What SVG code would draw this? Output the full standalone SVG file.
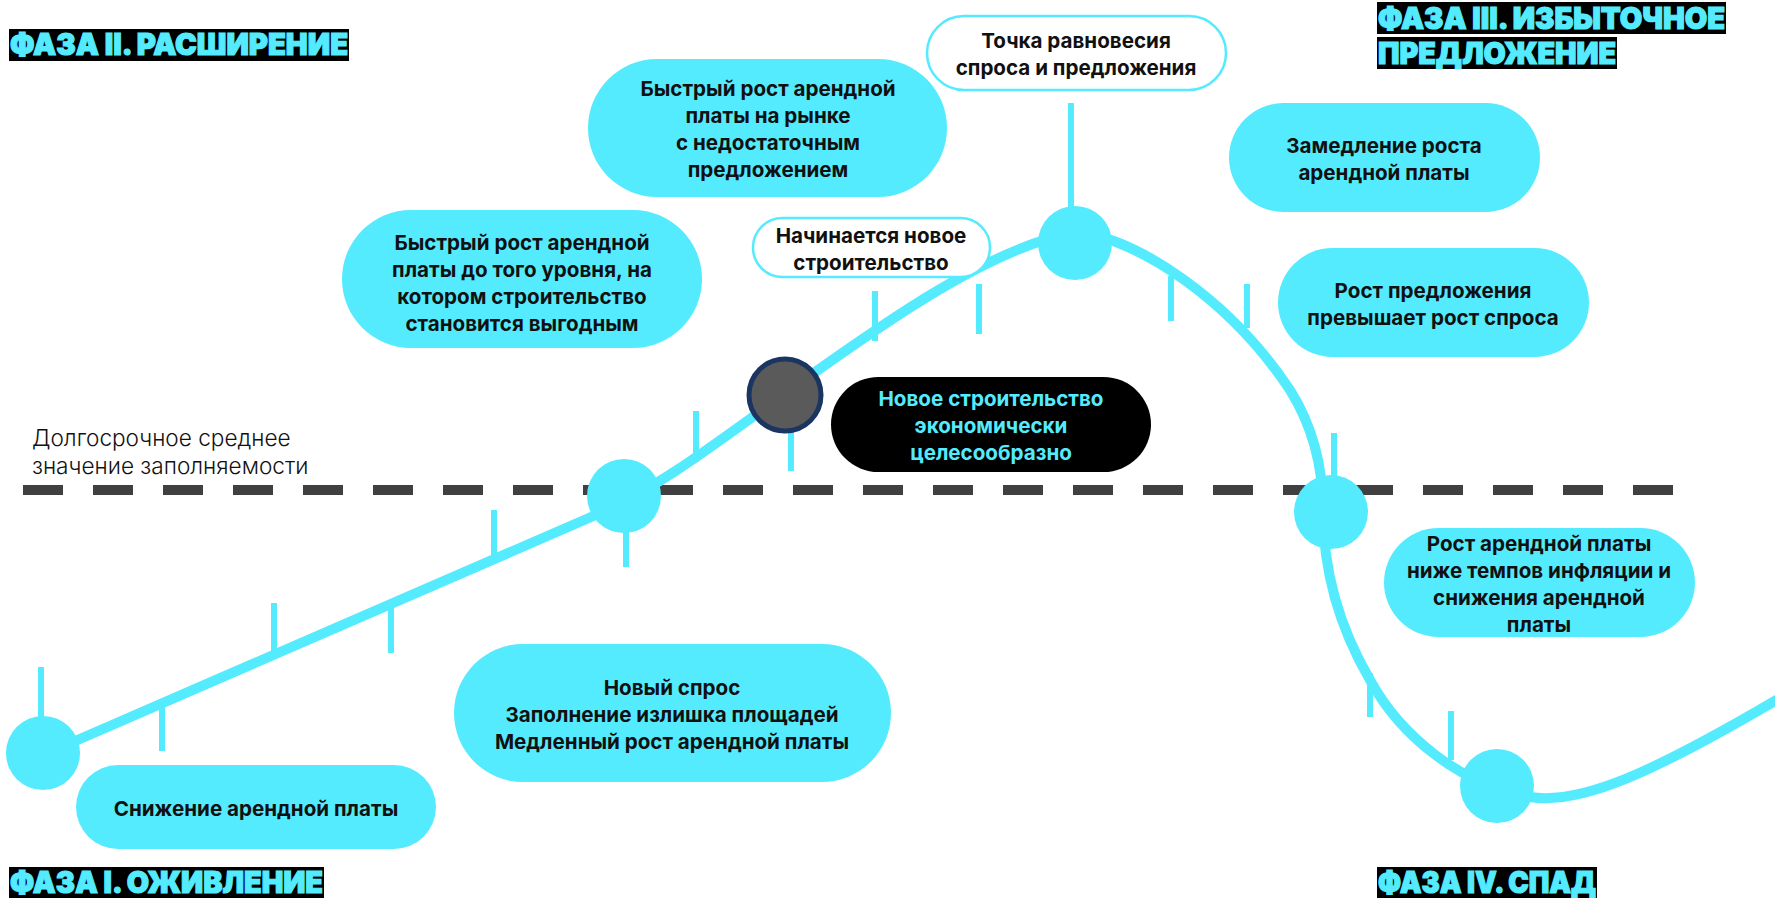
<svg xmlns="http://www.w3.org/2000/svg" width="1775" height="898" viewBox="0 0 1775 898">
<style>
.pill{fill:#54EBFF}
.pillw{fill:#FFFFFF;stroke:#54EBFF;stroke-width:2.5}
.pillb{fill:#000000}
.t{font-family:Inter,"Noto Sans",sans-serif;font-weight:700;font-size:20.6px;fill:#111111;text-anchor:middle}
.tc{fill:#54EBFF}
.ph{font-family:Inter,"Noto Sans",sans-serif;font-weight:900;font-size:30px;fill:#54EBFF;stroke:#54EBFF;stroke-width:1.2}
.phbox{fill:#000000}
.tick{stroke:#54EBFF;stroke-width:6;fill:none}
.dot{fill:#54EBFF}
.lbl{font-family:Inter,"Noto Sans",sans-serif;font-weight:300;font-size:22.6px;fill:#111111}
</style>
<rect width="1775" height="898" fill="#FFFFFF"/>

<g id="average-line">
<line x1="23" y1="490" x2="1673" y2="490" stroke="#404040" stroke-width="10" stroke-dasharray="40 30"/>
<text class="lbl" x="32" y="446">Долгосрочное среднее</text>
<text class="lbl" x="32" y="474">значение заполняемости</text>
</g>

<g id="connectors">
<path d="M 43 755 L 598 514 C 660 487 720 440 790 390 C 870 333 990 245 1078 232 C 1140 240 1230 300 1290 390 C 1315 430 1323 470 1323 510 C 1323 560 1335 620 1370 680 C 1400 735 1460 785 1530 797 C 1580 805 1650 775 1790 692" fill="none" stroke="#54EBFF" stroke-width="10"/>
<line class="tick" x1="1071" y1="103" x2="1071" y2="210"/>
<line class="tick" x1="41" y1="667" x2="41" y2="720"/>
<line class="tick" x1="162" y1="704" x2="162" y2="751"/>
<line class="tick" x1="274" y1="603" x2="274" y2="656"/>
<line class="tick" x1="391" y1="603" x2="391" y2="653"/>
<line class="tick" x1="494" y1="510" x2="494" y2="560"/>
<line class="tick" x1="626" y1="525" x2="626" y2="567"/>
<line class="tick" x1="696" y1="411" x2="696" y2="462"/>
<line class="tick" x1="791" y1="425" x2="791" y2="471"/>
<line class="tick" x1="875" y1="291" x2="875" y2="341"/>
<line class="tick" x1="979" y1="284" x2="979" y2="334"/>
<line class="tick" x1="1171" y1="276" x2="1171" y2="321"/>
<line class="tick" x1="1247" y1="284" x2="1247" y2="328"/>
<line class="tick" x1="1334" y1="433" x2="1334" y2="480"/>
<line class="tick" x1="1370" y1="673" x2="1370" y2="717"/>
<line class="tick" x1="1451" y1="711" x2="1451" y2="760"/>
</g>

<g id="point-1"><circle class="dot" cx="43" cy="753" r="37"/></g>
<g id="point-2"><circle class="dot" cx="624" cy="496" r="37"/></g>
<g id="point-new-construction"><circle cx="785" cy="395" r="36" fill="#5A5A5A" stroke="#1B3563" stroke-width="5"/></g>
<g id="point-peak"><circle class="dot" cx="1075" cy="243" r="37"/></g>
<g id="point-3"><circle class="dot" cx="1331" cy="512" r="37"/></g>
<g id="point-trough"><circle class="dot" cx="1497" cy="786" r="37"/></g>

<g id="phase-2">
<rect class="phbox" x="9" y="29" width="340" height="32"/>
<text class="ph" x="10" y="55" textLength="338" lengthAdjust="spacingAndGlyphs">ФАЗА II. РАСШИРЕНИЕ</text>
</g>
<g id="phase-3">
<rect class="phbox" x="1377" y="2" width="349" height="32"/>
<rect class="phbox" x="1377" y="37" width="240" height="32"/>
<text class="ph" x="1378" y="29" textLength="347" lengthAdjust="spacingAndGlyphs">ФАЗА III. ИЗБЫТОЧНОЕ</text>
<text class="ph" x="1378" y="64" textLength="238" lengthAdjust="spacingAndGlyphs">ПРЕДЛОЖЕНИЕ</text>
</g>
<g id="phase-1">
<rect class="phbox" x="9" y="867" width="315" height="31"/>
<text class="ph" x="10" y="893" textLength="313" lengthAdjust="spacingAndGlyphs">ФАЗА I. ОЖИВЛЕНИЕ</text>
</g>
<g id="phase-4">
<rect class="phbox" x="1377" y="867" width="220" height="31"/>
<text class="ph" x="1378" y="893" textLength="218" lengthAdjust="spacingAndGlyphs">ФАЗА IV. СПАД</text>
</g>

<g id="node-rent-decrease">
<rect class="pill" x="76" y="765" width="360" height="84" rx="42"/>
<text class="t" x="256" y="816">Снижение арендной платы</text>
</g>
<g id="node-new-demand">
<rect class="pill" x="454" y="644" width="437" height="138" rx="69"/>
<text class="t" x="672" y="695">Новый спрос</text>
<text class="t" x="672" y="722">Заполнение излишка площадей</text>
<text class="t" x="672" y="749">Медленный рост арендной платы</text>
</g>
<g id="node-rapid-growth-1">
<rect class="pill" x="342" y="210" width="360" height="138" rx="69"/>
<text class="t" x="522" y="250">Быстрый рост арендной</text>
<text class="t" x="522" y="277">платы до того уровня, на</text>
<text class="t" x="522" y="304">котором строительство</text>
<text class="t" x="522" y="331">становится выгодным</text>
</g>
<g id="node-rapid-growth-2">
<rect class="pill" x="588" y="59" width="359" height="138" rx="69"/>
<text class="t" x="768" y="96">Быстрый рост арендной</text>
<text class="t" x="768" y="123">платы на рынке</text>
<text class="t" x="768" y="150">с недостаточным</text>
<text class="t" x="768" y="177">предложением</text>
</g>
<g id="node-equilibrium">
<rect class="pillw" x="927" y="16" width="299" height="74" rx="37"/>
<text class="t" x="1076" y="48">Точка равновесия</text>
<text class="t" x="1076" y="75">спроса и предложения</text>
</g>
<g id="node-construction-starts">
<rect class="pillw" x="753" y="218" width="237" height="59" rx="29.5"/>
<text class="t" x="871" y="243">Начинается новое</text>
<text class="t" x="871" y="270">строительство</text>
</g>
<g id="node-construction-feasible">
<rect class="pillb" x="831" y="377" width="320" height="95" rx="47.5"/>
<text class="t tc" x="991" y="406">Новое строительство</text>
<text class="t tc" x="991" y="433">экономически</text>
<text class="t tc" x="991" y="460">целесообразно</text>
</g>
<g id="node-slowdown">
<rect class="pill" x="1229" y="103" width="311" height="109" rx="54.5"/>
<text class="t" x="1384" y="153">Замедление роста</text>
<text class="t" x="1384" y="180">арендной платы</text>
</g>
<g id="node-supply-exceeds">
<rect class="pill" x="1278" y="248" width="311" height="109" rx="54.5"/>
<text class="t" x="1433" y="298">Рост предложения</text>
<text class="t" x="1433" y="325">превышает рост спроса</text>
</g>
<g id="node-below-inflation">
<rect class="pill" x="1384" y="528" width="311" height="109" rx="54.5"/>
<text class="t" x="1539" y="551">Рост арендной платы</text>
<text class="t" x="1539" y="578">ниже темпов инфляции и</text>
<text class="t" x="1539" y="605">снижения арендной</text>
<text class="t" x="1539" y="632">платы</text>
</g>
</svg>
